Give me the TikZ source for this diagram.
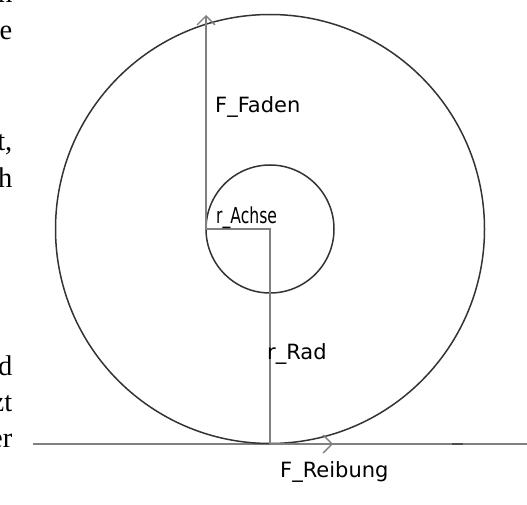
\documentclass[tikz,border=0pt]{standalone}
\usepackage{fontspec}
\setmainfont{Liberation Serif}
\newfontfamily\lblfont{DejaVu Sans}
\newfontfamily\narrowfont[FakeStretch=0.71]{DejaVu Sans}
\usetikzlibrary{arrows.meta}
\definecolor{axgray}{gray}{0.5}

\begin{document}
\begin{tikzpicture}[x=1pt,y=-1pt,
  lbl/.style={inner sep=0,anchor=base west,font=\lblfont\fontsize{21}{25}\selectfont},
  frag/.style={inner sep=0,anchor=base east,font=\fontsize{28.5}{34}\selectfont},
  ax/.style={draw=axgray,line width=1.3pt},
  vec/.style={ax,-{Straight Barb[length=9pt,width=18pt]}},
  rim/.style={draw=black!80,line width=1.5pt}]
  \useasboundingbox (0,0) rectangle (527,505);
  \clip (0,0) rectangle (527,505);
  % cut-off text of the page on the left
  \foreach \y/\t in {3/n,40/e,151/{t,},188/h,375/d,411/zt,447/er}
    \node[frag] (frag\y) at (12.5,\y) {\t};
  \node[frag] (frag77) at (2,77) {.};
  % points
  \coordinate (M) at (270,229);
  \coordinate (A) at (206,229);
  \coordinate (Ftop) at (206,15);
  \coordinate (P) at (270,444);
  \coordinate (Rtip) at (333,444);
  \coordinate (G0) at (33,444);
  \coordinate (G1) at (527,444);
  \coordinate (D0) at (452,444);
  \coordinate (D1) at (463,444);
  % ground
  \draw[ax] (G0)--(G1);
  \draw[draw=black!70,line width=1.6pt] (D0)--(D1);
  % wheel and axle
  \draw[rim] (M) circle (214.5pt);
  \draw[rim] (M) circle (64pt);
  % radii and forces
  \draw[ax] (A)--(M)--(P);
  \draw[vec] (A)--(Ftop);
  \draw[vec] (P)--(Rtip);
  \node[lbl] (fFaden) at (215,113) {F\_Faden};
  \node[lbl,font=\narrowfont\fontsize{22}{26}\selectfont] (rAchse) at (216,223) {r\_Achse};
  \node[lbl] (rRad) at (267,359) {r\_Rad};
  \node[lbl] (fReibung) at (280,477) {F\_Reibung};
\end{tikzpicture}
\end{document}
